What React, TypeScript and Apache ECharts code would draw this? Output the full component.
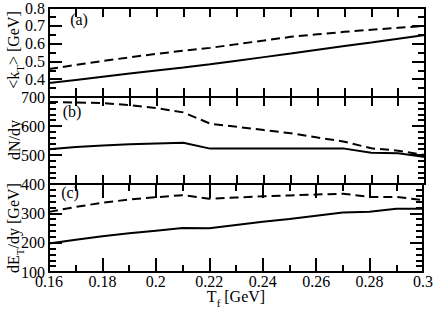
import React, { useEffect, useRef } from "react";
import * as echarts from "echarts";

const T = [0.16, 0.17, 0.18, 0.19, 0.2, 0.21, 0.22, 0.23, 0.24, 0.25, 0.26, 0.27, 0.28, 0.29, 0.3];
const ktSolid = [0.378, 0.396, 0.414, 0.432, 0.449, 0.466, 0.484, 0.504, 0.524, 0.544, 0.565, 0.586, 0.606, 0.627, 0.648];
const ktDashed = [0.457, 0.48, 0.502, 0.523, 0.542, 0.56, 0.576, 0.597, 0.617, 0.638, 0.652, 0.666, 0.678, 0.689, 0.699];
const dndySolid = [520, 528, 533, 537, 540, 542, 522, 522, 522, 522, 522, 522, 508, 506, 493];
const dndyDashed = [683, 681, 679, 672, 662, 647, 608, 597, 586, 575, 560, 546, 523, 515, 500];
const detSolid = [197, 210, 222, 232, 241, 250, 249, 260, 271, 281, 292, 303, 305, 316, 316];
const detDashed = [305, 322, 336, 347, 355, 362, 350, 354, 358, 361, 364, 367, 356, 356, 345];

const FONT = "Liberation Serif";
const BLACK = "#000";

export default function App() {
  const ref = useRef<HTMLDivElement>(null);
  useEffect(() => {
    if (!ref.current) return;
    const chart = echarts.init(ref.current, null, { renderer: "svg" });
    const axisLine = { show: true, onZero: false, lineStyle: { color: BLACK, width: 2 } };
    const tickStyle = { color: BLACK, width: 2 };
    const labelStyle = { fontFamily: FONT, fontSize: 16, color: BLACK, lineHeight: 16 };

    const xAxes: any[] = [];
    [0, 1, 2].forEach((g) => {
      ["bottom", "top"].forEach((pos) => {
        const isC = g === 2;
        xAxes.push({
          type: "value",
          gridIndex: g,
          position: pos,
          min: 0.16,
          max: 0.3,
          interval: isC ? 0.02 : 0.01,
          axisLine,
          axisTick: { show: true, inside: true, length: isC ? 14 : 9, lineStyle: tickStyle },
          minorTick: isC
            ? { show: true, splitNumber: 2, length: 7, lineStyle: tickStyle }
            : { show: false },
          axisLabel: isC && pos === "bottom" ? { ...labelStyle, margin: 1 } : { show: false },
          splitLine: { show: false },
          minorSplitLine: { show: false },
        });
      });
    });

    const yDefs = [
      { min: 0.3, max: 0.8, interval: 0.1, split: 2, showMin: false },
      { min: 400, max: 700, interval: 100, split: 5, showMin: false },
      { min: 100, max: 400, interval: 100, split: 5, showMin: true },
    ];
    const yAxes: any[] = [];
    yDefs.forEach((d, g) => {
      ["left", "right"].forEach((pos) => {
        yAxes.push({
          type: "value",
          gridIndex: g,
          position: pos,
          min: d.min,
          max: d.max,
          interval: d.interval,
          axisLine,
          axisTick: { show: true, inside: true, length: 13, lineStyle: tickStyle },
          minorTick: { show: true, splitNumber: d.split, length: 7, lineStyle: tickStyle },
          axisLabel:
            pos === "left"
              ? { ...labelStyle, margin: 4, showMinLabel: d.showMin, showMaxLabel: true }
              : { show: false },
          splitLine: { show: false },
          minorSplitLine: { show: false },
        });
      });
    });

    const mk = (vals: number[], g: number, dashed: boolean) => ({
      type: "line",
      xAxisIndex: g * 2,
      yAxisIndex: g * 2,
      data: T.map((t, i) => [t, vals[i]]),
      symbol: "none",
      lineStyle: { color: BLACK, width: 2, type: dashed ? [9, 5] : "solid" },
      silent: true,
    });

    const rich = {
      n: { fontFamily: FONT, fontSize: 16, color: BLACK, lineHeight: 15, verticalAlign: "top" },
      s: { fontFamily: FONT, fontSize: 11, color: BLACK, lineHeight: 20, verticalAlign: "bottom" },
    };
    const title = (text: string, x: number, y: number, rot: number) => ({
      type: "text",
      x,
      y,
      rotation: rot,
      style: { text, rich, align: "center", verticalAlign: "middle", fill: BLACK },
    });
    const letter = (text: string, x: number, y: number) => ({
      type: "text",
      x,
      y,
      style: { text, fontFamily: FONT, fontSize: 16, fill: BLACK, align: "center", verticalAlign: "middle" },
    });

    chart.setOption({
      animation: false,
      backgroundColor: "#fff",
      grid: [
        { left: 49, right: 11, top: 5, height: 92 },
        { left: 49, right: 11, top: 97, height: 87 },
        { left: 49, right: 11, top: 184, height: 88 },
      ],
      xAxis: xAxes,
      yAxis: yAxes,
      series: [
        mk(ktSolid, 0, false),
        mk(ktDashed, 0, true),
        mk(dndySolid, 1, false),
        mk(dndyDashed, 1, true),
        mk(detSolid, 2, false),
        mk(detDashed, 2, true),
      ],
      graphic: [
        title("{n|<k}{s|T}{n|> [GeV]}", 15, 50, Math.PI / 2),
        title("{n|dN/dy}", 14, 140, Math.PI / 2),
        title("{n|dE}{s|T}{n|/dy [GeV]}", 15, 228, Math.PI / 2),
        title("{n|T}{s|f}{n| [GeV]}", 236, 298, 0),
        letter("(a)", 79, 19),
        letter("(b)", 72, 111),
        letter("(c)", 70, 192),
      ],
    });
    return () => chart.dispose();
  }, []);
  return (
    <div
      ref={ref}
      style={{ position: "fixed", left: 0, top: 0, width: 436, height: 309, background: "#fff" }}
    />
  );
}
